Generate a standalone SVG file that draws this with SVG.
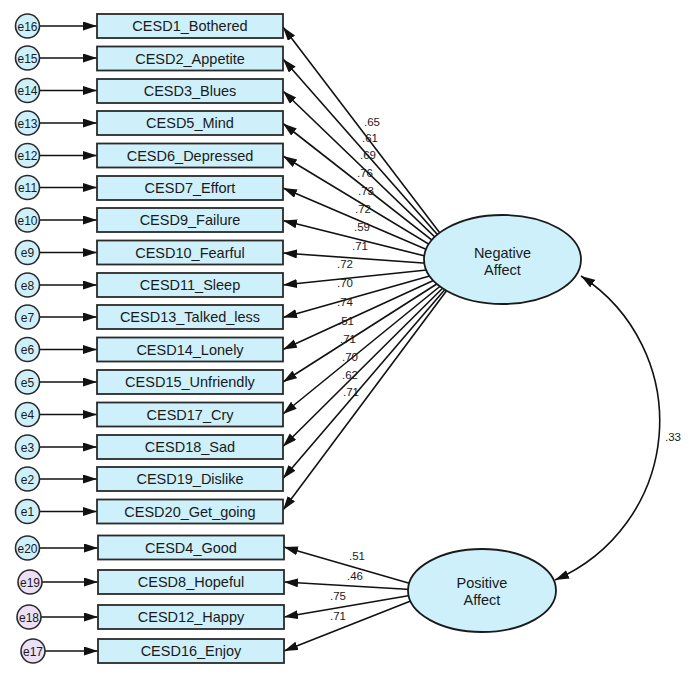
<svg xmlns="http://www.w3.org/2000/svg" width="689" height="679" viewBox="0 0 689 679">
<defs>
<marker id="ah" markerUnits="userSpaceOnUse" markerWidth="15" markerHeight="10" refX="14" refY="4.5" orient="auto-start-reverse"><path d="M0,0 L14,4.5 L0,9 z" fill="#111"/></marker>
<style>
.box{fill:#cdf0fb;stroke:#2a2a2a;stroke-width:1.8}
.err{fill:#cdf0fb;stroke:#2a2a2a;stroke-width:1.6}
.errp{fill:#ece0f4;stroke:#2a2a2a;stroke-width:1.6}
.lat{fill:#cdf0fb;stroke:#1a1a1a;stroke-width:1.8}
.t{font-family:"Liberation Sans",Arial,sans-serif;font-size:14.5px;fill:#1a1a1a;text-anchor:middle}
.te{font-family:"Liberation Sans",Arial,sans-serif;font-size:12px;fill:#1a1a1a;text-anchor:middle}
.lb{font-family:"Liberation Sans",Arial,sans-serif;font-size:11.5px;fill:#1a1a1a;text-anchor:middle}
.c{stroke:#111;stroke-width:1.6;fill:none;marker-end:url(#ah)}
</style>
</defs>
<rect width="689" height="679" fill="#fff"/>
<g id="connectors">
<!-- error arrows -->
<path class="c" d="M39.5,26 H97"/>
<path class="c" d="M39.5,58 H97"/>
<path class="c" d="M39.5,90.5 H97"/>
<path class="c" d="M39.5,123 H97"/>
<path class="c" d="M39.5,155.5 H97"/>
<path class="c" d="M39.5,187.5 H97"/>
<path class="c" d="M39.5,220 H97"/>
<path class="c" d="M39.5,252.5 H97"/>
<path class="c" d="M39.5,285 H97"/>
<path class="c" d="M39.5,317 H97"/>
<path class="c" d="M39.5,349.5 H97"/>
<path class="c" d="M39.5,382 H97"/>
<path class="c" d="M39.5,414.5 H97"/>
<path class="c" d="M39.5,447 H97"/>
<path class="c" d="M39.5,479 H97"/>
<path class="c" d="M39.5,511.5 H97"/>
<path class="c" d="M39.5,548 H98"/>
<path class="c" d="M42,582 H98"/>
<path class="c" d="M41,617 H98"/>
<path class="c" d="M45,651 H98"/>
<!-- negative affect loadings -->
<path class="c" d="M465,266 L283,27"/>
<path class="c" d="M465,266 L283,59"/>
<path class="c" d="M465,266 L283,91"/>
<path class="c" d="M465,266 L283,123.5"/>
<path class="c" d="M465,266 L283,156"/>
<path class="c" d="M465,266 L283,188"/>
<path class="c" d="M465,266 L283,220.5"/>
<path class="c" d="M465,266 L283,253"/>
<path class="c" d="M465,266 L283,285"/>
<path class="c" d="M465,266 L283,317.5"/>
<path class="c" d="M465,266 L283,349.5"/>
<path class="c" d="M465,266 L283,382"/>
<path class="c" d="M465,266 L283,414"/>
<path class="c" d="M465,266 L283,446.5"/>
<path class="c" d="M465,266 L283,478.5"/>
<path class="c" d="M465,266 L283,510"/>
<!-- positive affect loadings -->
<path class="c" d="M436,591 L284,547"/>
<path class="c" d="M436,591 L284,582"/>
<path class="c" d="M436,591 L284,617"/>
<path class="c" d="M436,591 L284,651"/>
<!-- covariance -->
<path class="c" d="M581,276 A173,173 0 0 1 555,580" marker-start="url(#ah)"/>
</g>
<g id="labels">
<text class="lb" x="372" y="126">.65</text>
<text class="lb" x="370" y="142">.61</text>
<text class="lb" x="368" y="159">.69</text>
<text class="lb" x="365" y="177">.76</text>
<text class="lb" x="366" y="195">.73</text>
<text class="lb" x="363" y="213">.72</text>
<text class="lb" x="362" y="231">.59</text>
<text class="lb" x="360" y="250">.71</text>
<text class="lb" x="345" y="268">.72</text>
<text class="lb" x="345" y="287">.70</text>
<text class="lb" x="345" y="306">.74</text>
<text class="lb" x="346" y="325">.51</text>
<text class="lb" x="348" y="343">.71</text>
<text class="lb" x="350" y="361">.70</text>
<text class="lb" x="350" y="379">.62</text>
<text class="lb" x="351" y="396">.71</text>
<text class="lb" x="357" y="560">.51</text>
<text class="lb" x="355" y="580">.46</text>
<text class="lb" x="338" y="600">.75</text>
<text class="lb" x="338" y="620">.71</text>
<text class="lb" x="673" y="441">.33</text>
</g>
<g id="NegativeAffect"><ellipse class="lat" cx="502.5" cy="259.5" rx="78.5" ry="44.5"/><text class="t" x="502.5" y="258">Negative</text><text class="t" x="502.5" y="275">Affect</text></g>
<g id="PositiveAffect"><ellipse class="lat" cx="482" cy="590.5" rx="74" ry="41.5"/><text class="t" x="482" y="588">Positive</text><text class="t" x="482" y="605">Affect</text></g>
<g id="CESD1"><rect class="box" x="97" y="14" width="186" height="24"/><text class="t" x="190" y="31">CESD1_Bothered</text></g>
<g id="CESD2"><rect class="box" x="97" y="46.5" width="186" height="24"/><text class="t" x="190" y="63.5">CESD2_Appetite</text></g>
<g id="CESD3"><rect class="box" x="97" y="79" width="186" height="24"/><text class="t" x="190" y="96">CESD3_Blues</text></g>
<g id="CESD5"><rect class="box" x="97" y="111" width="186" height="24"/><text class="t" x="190" y="128">CESD5_Mind</text></g>
<g id="CESD6"><rect class="box" x="97" y="143.5" width="186" height="24"/><text class="t" x="190" y="160.5">CESD6_Depressed</text></g>
<g id="CESD7"><rect class="box" x="97" y="176" width="186" height="24"/><text class="t" x="190" y="193">CESD7_Effort</text></g>
<g id="CESD9"><rect class="box" x="97" y="208" width="186" height="24"/><text class="t" x="190" y="225">CESD9_Failure</text></g>
<g id="CESD10"><rect class="box" x="97" y="240.5" width="186" height="24"/><text class="t" x="190" y="257.5">CESD10_Fearful</text></g>
<g id="CESD11"><rect class="box" x="97" y="273" width="186" height="24"/><text class="t" x="190" y="290">CESD11_Sleep</text></g>
<g id="CESD13"><rect class="box" x="97" y="305" width="186" height="24"/><text class="t" x="190" y="322">CESD13_Talked_less</text></g>
<g id="CESD14"><rect class="box" x="97" y="337.5" width="186" height="24"/><text class="t" x="190" y="354.5">CESD14_Lonely</text></g>
<g id="CESD15"><rect class="box" x="97" y="370" width="186" height="24"/><text class="t" x="190" y="387">CESD15_Unfriendly</text></g>
<g id="CESD17"><rect class="box" x="97" y="402.5" width="186" height="24"/><text class="t" x="190" y="419.5">CESD17_Cry</text></g>
<g id="CESD18"><rect class="box" x="97" y="435" width="186" height="24"/><text class="t" x="190" y="452">CESD18_Sad</text></g>
<g id="CESD19"><rect class="box" x="97" y="467" width="186" height="24"/><text class="t" x="190" y="484">CESD19_Dislike</text></g>
<g id="CESD20"><rect class="box" x="97" y="499.5" width="186" height="24"/><text class="t" x="190" y="516.5">CESD20_Get_going</text></g>
<g id="CESD4"><rect class="box" x="98" y="535.5" width="186" height="24"/><text class="t" x="191" y="552.5">CESD4_Good</text></g>
<g id="CESD8"><rect class="box" x="98" y="570" width="186" height="24"/><text class="t" x="191" y="587">CESD8_Hopeful</text></g>
<g id="CESD12"><rect class="box" x="98" y="605" width="186" height="24"/><text class="t" x="191" y="622">CESD12_Happy</text></g>
<g id="CESD16"><rect class="box" x="98" y="639" width="186" height="24"/><text class="t" x="191" y="656">CESD16_Enjoy</text></g>
<g id="e16"><circle class="err" cx="27.5" cy="26" r="12"/><text class="te" x="27.5" y="30.5">e16</text></g>
<g id="e15"><circle class="err" cx="27.5" cy="58" r="12"/><text class="te" x="27.5" y="62.5">e15</text></g>
<g id="e14"><circle class="err" cx="27.5" cy="90.5" r="12"/><text class="te" x="27.5" y="95">e14</text></g>
<g id="e13"><circle class="err" cx="27.5" cy="123" r="12"/><text class="te" x="27.5" y="127.5">e13</text></g>
<g id="e12"><circle class="err" cx="27.5" cy="155.5" r="12"/><text class="te" x="27.5" y="160">e12</text></g>
<g id="e11"><circle class="err" cx="27.5" cy="187.5" r="12"/><text class="te" x="27.5" y="192">e11</text></g>
<g id="e10"><circle class="err" cx="27.5" cy="220" r="12"/><text class="te" x="27.5" y="224.5">e10</text></g>
<g id="e9"><circle class="err" cx="27.5" cy="252.5" r="12"/><text class="te" x="27.5" y="257">e9</text></g>
<g id="e8"><circle class="err" cx="27.5" cy="285" r="12"/><text class="te" x="27.5" y="289.5">e8</text></g>
<g id="e7"><circle class="err" cx="27.5" cy="317" r="12"/><text class="te" x="27.5" y="321.5">e7</text></g>
<g id="e6"><circle class="err" cx="27.5" cy="349.5" r="12"/><text class="te" x="27.5" y="354">e6</text></g>
<g id="e5"><circle class="err" cx="27.5" cy="382" r="12"/><text class="te" x="27.5" y="386.5">e5</text></g>
<g id="e4"><circle class="err" cx="27.5" cy="414.5" r="12"/><text class="te" x="27.5" y="419">e4</text></g>
<g id="e3"><circle class="err" cx="27.5" cy="447" r="12"/><text class="te" x="27.5" y="451.5">e3</text></g>
<g id="e2"><circle class="err" cx="27.5" cy="479" r="12"/><text class="te" x="27.5" y="483.5">e2</text></g>
<g id="e1"><circle class="err" cx="27.5" cy="511.5" r="12"/><text class="te" x="27.5" y="516">e1</text></g>
<g id="e20"><circle class="err" cx="27.5" cy="548" r="12"/><text class="te" x="27.5" y="552.5">e20</text></g>
<g id="e19"><circle class="errp" cx="30" cy="582" r="12"/><text class="te" x="30" y="586.5">e19</text></g>
<g id="e18"><circle class="errp" cx="29" cy="617" r="12"/><text class="te" x="29" y="621.5">e18</text></g>
<g id="e17"><circle class="errp" cx="33" cy="651" r="12"/><text class="te" x="33" y="655.5">e17</text></g>
</svg>
